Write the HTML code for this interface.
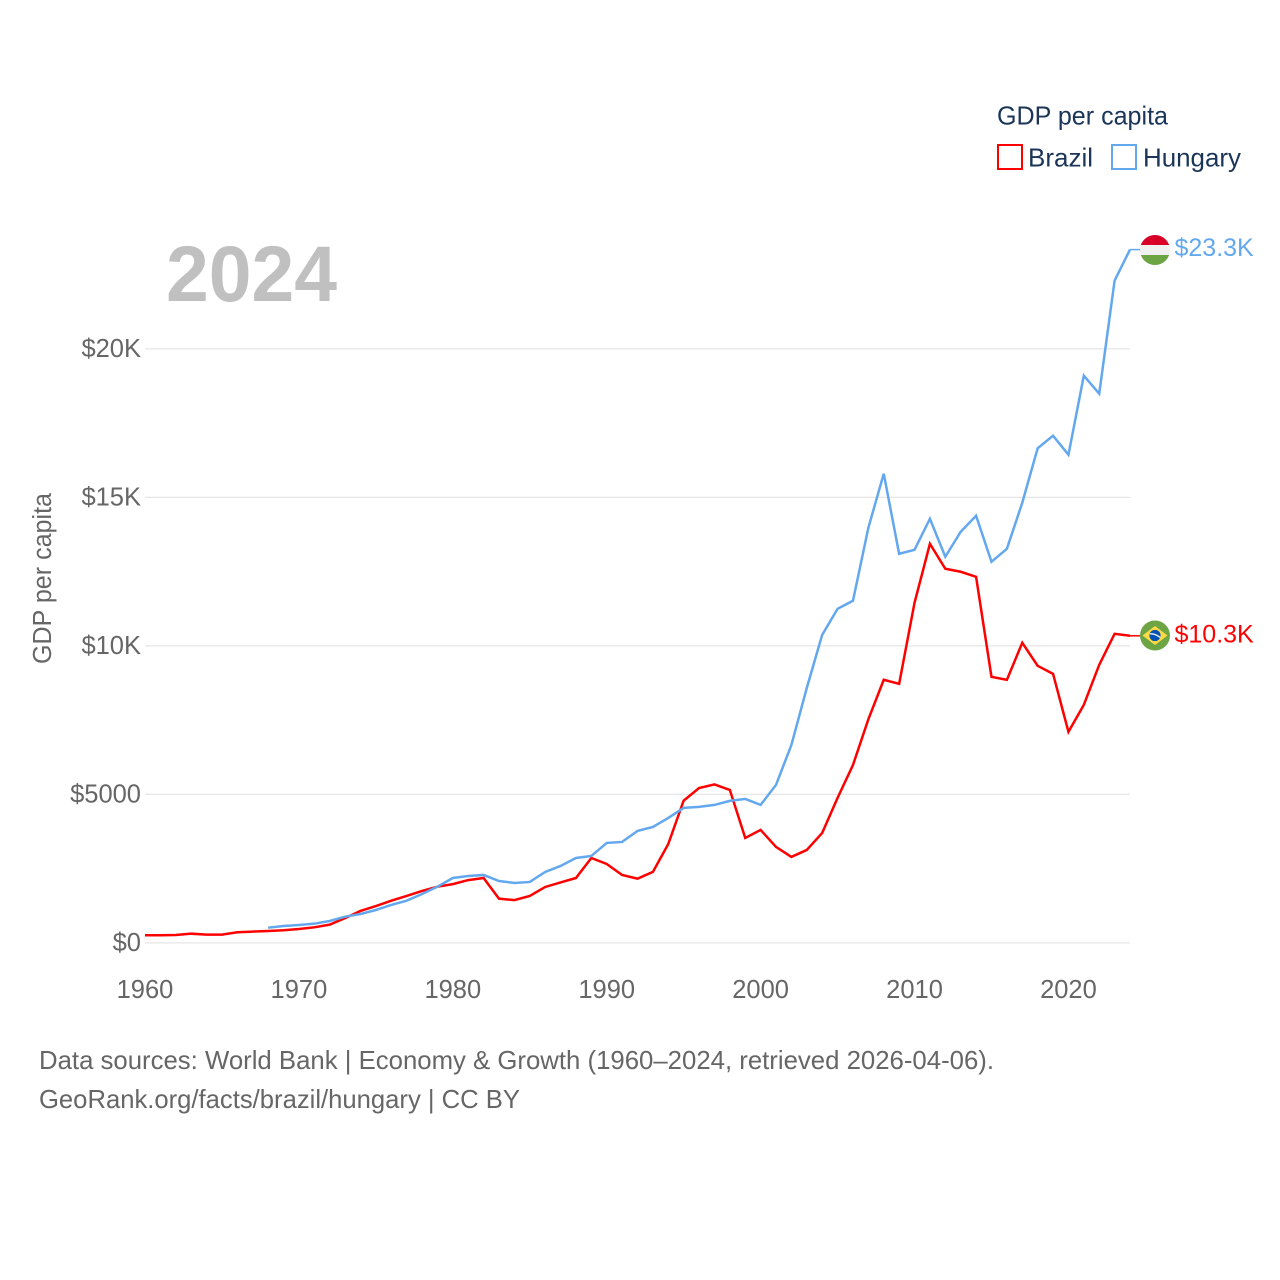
<!DOCTYPE html>
<html lang="en">
<head>
<meta charset="utf-8">
<title>GDP per capita: Brazil and Hungary</title>
<style>
html,body{margin:0;padding:0;background:#fff;width:1280px;height:1280px;overflow:hidden}
svg{display:block}
text{font-family:"Liberation Sans",sans-serif}
</style>
</head>
<body>
<svg id="chart" xmlns="http://www.w3.org/2000/svg" width="1280" height="1280" viewBox="0 0 1280 1280">
  <rect x="0" y="0" width="1280" height="1280" fill="#ffffff"/>
  <g id="grid"></g>
  <g id="yticks"></g>
  <g id="xticks"></g>
  <text transform="translate(51,664) rotate(-90)" font-size="25.5" fill="#666666" textLength="171" lengthAdjust="spacingAndGlyphs">GDP per capita</text>
  <text x="166" y="301" font-size="79" font-weight="700" fill="#c0c0c0" textLength="171" lengthAdjust="spacingAndGlyphs">2024</text>
  <g id="series"></g>

  <g transform="translate(1155,250)">
    <clipPath id="hu-clip"><circle r="15"/></clipPath>
    <g clip-path="url(#hu-clip)">
      <rect x="-15" y="-15" width="30" height="30" fill="#f0f0f0"/>
      <rect x="-15" y="-15" width="30" height="10" fill="#d80027"/>
      <rect x="-15" y="5" width="30" height="10" fill="#6da544"/>
    </g>
  </g>
  <g transform="translate(1155,635.5)">
    <circle r="15" fill="#6da544"/>
    <polygon points="0,-9.5 12.5,0 0,9.5 -12.5,0" fill="#ffda44"/>
    <circle r="5.6" fill="#0052b4"/>
    <path d="M-5.2,-1.6 Q0,-2.2 5.2,2" fill="none" stroke="#f0f0f0" stroke-width="1.3"/>
  </g>
  <g id="endlabels"></g>

  <g>
    <text x="997" y="124.5" font-size="26" fill="#1a3557" textLength="171" lengthAdjust="spacingAndGlyphs">GDP per capita</text>
    <g>
      <rect x="998" y="145" width="24" height="24" fill="none" stroke="#ff0000" stroke-width="2"/>
      <text x="1028" y="166.5" font-size="26" fill="#1a3557" textLength="65" lengthAdjust="spacingAndGlyphs">Brazil</text>
    </g>
    <g>
      <rect x="1112" y="145" width="24" height="24" fill="none" stroke="#63a8ee" stroke-width="2"/>
      <text x="1143" y="166.5" font-size="26" fill="#1a3557" textLength="98" lengthAdjust="spacingAndGlyphs">Hungary</text>
    </g>
  </g>

  <text x="39" y="1069" font-size="26" fill="#666666" textLength="955" lengthAdjust="spacingAndGlyphs">Data sources: World Bank | Economy &amp; Growth (1960–2024, retrieved 2026-04-06).</text>
  <text x="39" y="1108" font-size="26" fill="#666666" textLength="481" lengthAdjust="spacingAndGlyphs">GeoRank.org/facts/brazil/hungary | CC BY</text>
</svg>
<script>
const startYear = 1960;
const endYear = 2024;
const yTickValues = [0, 5000, 10000, 15000, 20000];
const yTickLabels = ["$0", "$5000", "$10K", "$15K", "$20K"];
const xTickValues = [1960, 1970, 1980, 1990, 2000, 2010, 2020];
const xTickLabels = ["1960", "1970", "1980", "1990", "2000", "2010", "2020"];
const brazilValues = [256,259,265,310,280,280,357,380,400,425,468,525,615,835,1075,1240,1422,1580,1750,1893,1980,2115,2185,1489,1440,1580,1883,2035,2186,2860,2658,2287,2163,2389,3332,4791,5215,5337,5151,3534,3804,3231,2894,3130,3703,4882,5990,7530,8860,8722,11451,13439,12597,12496,12327,8958,8857,10104,9329,9059,7105,8015,9363,10407,10340];
const hungaryValues = [null,null,null,null,null,null,null,null,512,570,603,647,738,883,974,1108,1277,1422,1647,1893,2186,2254,2288,2085,2018,2052,2389,2591,2860,2928,3366,3399,3770,3904,4208,4545,4579,4646,4781,4848,4646,5320,6667,8587,10373,11249,11519,13978,15798,13102,13236,14281,13001,13843,14382,12832,13270,14820,16656,17077,16437,19099,18492,22299,23344];

const SVGNS = "http://www.w3.org/2000/svg";
function xScale(year){ return 145 + (year - 1960) * (985 / 64); }
function yScale(value){ return 942.9 - value * (594 / 20000); }
function formatK(value){ return "$" + (value / 1000).toFixed(1) + "K"; }
function make(tag, parent){
  const el = document.createElementNS(SVGNS, tag);
  parent.appendChild(el);
  return el;
}

const grid = document.getElementById("grid");
const yticks = document.getElementById("yticks");
const xticks = document.getElementById("xticks");
const seriesGroup = document.getElementById("series");
const endLabels = document.getElementById("endlabels");

yTickValues.forEach(function(v, i){
  const line = make("line", grid);
  
  
  line.setAttribute("x1", xScale(startYear));
  line.setAttribute("x2", xScale(endYear));
  line.setAttribute("y1", yScale(v));
  line.setAttribute("y2", yScale(v));
  line.setAttribute("stroke", "#e6e6e6");
  line.setAttribute("stroke-width", "1.2");
  const label = make("text", yticks);
  
  
  label.setAttribute("x", 141);
  label.setAttribute("y", yScale(v) + 8);
  label.setAttribute("text-anchor", "end");
  label.setAttribute("font-size", "25.5");
  label.setAttribute("fill", "#666666");
  label.textContent = yTickLabels[i];
});

xTickValues.forEach(function(year, i){
  const label = make("text", xticks);
  
  
  label.setAttribute("x", xScale(year));
  label.setAttribute("y", 998);
  label.setAttribute("text-anchor", "middle");
  label.setAttribute("font-size", "25.5");
  label.setAttribute("fill", "#666666");
  label.textContent = xTickLabels[i];
});

function drawSeries(values, color){
  const points = [];
  let lastValue = null;
  values.forEach(function(v, i){
    if (v === null) return;
    points.push(xScale(startYear + i).toFixed(2) + "," + yScale(v).toFixed(2));
    lastValue = v;
  });
  const line = make("polyline", seriesGroup);
  
  
  line.setAttribute("points", points.join(" "));
  line.setAttribute("fill", "none");
  line.setAttribute("stroke", color);
  line.setAttribute("stroke-width", "2.5");
  line.setAttribute("stroke-linejoin", "miter");
  const leader = make("line", seriesGroup);
  
  
  leader.setAttribute("x1", xScale(endYear));
  leader.setAttribute("x2", xScale(endYear) + 12);
  leader.setAttribute("y1", yScale(lastValue));
  leader.setAttribute("y2", yScale(lastValue));
  leader.setAttribute("stroke", color);
  leader.setAttribute("stroke-width", "1.5");
  const label = make("text", endLabels);
  
  
  label.setAttribute("x", 1174.5);
  label.setAttribute("y", yScale(lastValue) + 6.5);
  label.setAttribute("font-size", "25");
  label.setAttribute("fill", color);
  label.textContent = formatK(lastValue);
}
drawSeries(brazilValues, "#ff0000");
drawSeries(hungaryValues, "#63a8ee");
</script>
</body>
</html>
